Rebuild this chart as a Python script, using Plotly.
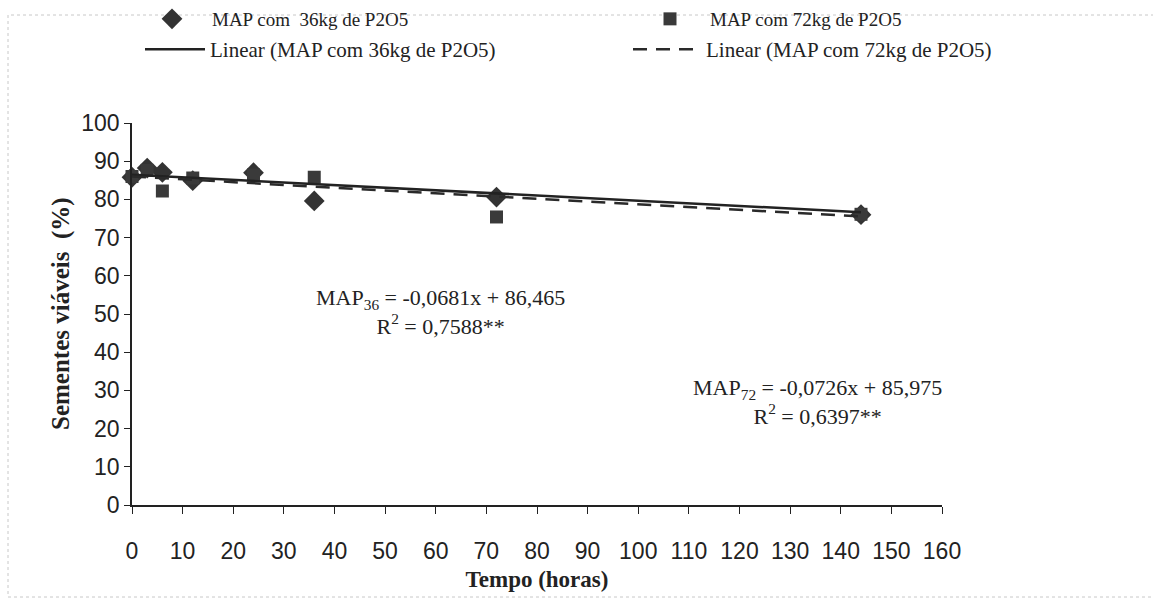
import plotly.graph_objects as go
import numpy as np

# Data
tempo = [0, 3, 6, 12, 24, 36, 72, 144]
map36 = [85.8, 88.2, 87.1, 84.9, 87.0, 79.6, 80.6, 76.0]
map72 = [86.0, 87.6, 82.2, 85.6, 86.4, 85.8, 75.4, 76.1]

# Regression equations printed on the chart
coef36 = (-0.0681, 86.465)
coef72 = (-0.0726, 85.975)
r2_36 = "0,7588**"
r2_72 = "0,6397**"
trend_x = [0, 144]

name36 = "MAP com  36kg de P2O5"
name72 = "MAP com 72kg de P2O5"
lin36 = "Linear (MAP com 36kg de P2O5)"
lin72 = "Linear (MAP com 72kg de P2O5)"
x_title = "Tempo (horas)"
y_title = "Sementes viáveis  (%)"

xticks = list(range(0, 161, 10))
yticks = list(range(0, 101, 10))

tx = np.array(trend_x, dtype=float)
W, H = 1153, 601
L, R, T, B = 132, 211, 123, 96
PW, PH = W - L - R, H - T - B

serif = "Liberation Serif, Times New Roman, serif"
sans = "Liberation Sans, Arial, sans-serif"
ink = "#222222"


def fmt(v):
    return str(v).replace(".", ",")


fig = go.Figure()
fig.add_trace(go.Scatter(x=tempo, y=map36, mode="markers", name=name36, legend="legend",
                         cliponaxis=False,
                         marker=dict(symbol="diamond", size=16, color="#333333")))
fig.add_trace(go.Scatter(x=tempo, y=map72, mode="markers", name=name72, legend="legend2",
                         cliponaxis=False,
                         marker=dict(symbol="square", size=13, color="#3a3a3a")))
fig.add_trace(go.Scatter(x=tx, y=coef36[0] * tx + coef36[1], mode="lines", name=lin36,
                         legend="legend3",
                         line=dict(color=ink, width=2.5)))
fig.add_trace(go.Scatter(x=tx, y=coef72[0] * tx + coef72[1], mode="lines", name=lin72,
                         legend="legend4",
                         line=dict(color="#2a2a2a", width=2.5, dash="14px,9px")))


def leg(xpx, ypx, size, itemwidth):
    return dict(x=xpx / W, y=1 - ypx / H, xref="container", yref="container",
                xanchor="left", yanchor="top", itemwidth=itemwidth,
                font=dict(family=serif, size=size, color=ink),
                bgcolor="rgba(0,0,0,0)")


fig.update_layout(
    width=W, height=H,
    margin=dict(l=L, r=R, t=T, b=B, autoexpand=False),
    paper_bgcolor="white", plot_bgcolor="white",
    showlegend=True,
    legend=leg(132, 0, 19, 70),
    legend2=leg(630, 0, 19, 70),
    legend3=leg(140, 29, 21, 60),
    legend4=leg(628, 29, 21, 68),
    xaxis=dict(range=[0, 160], tickvals=xticks, showgrid=False, zeroline=False,
               showline=True, linecolor=ink, linewidth=1.5,
               ticks="outside", ticklen=7, tickcolor=ink, ticklabelstandoff=18,
               tickfont=dict(family=sans, size=23, color=ink),
               title=dict(text=f"<b>{x_title}</b>", standoff=8,
                          font=dict(family=serif, size=23, color=ink))),
    yaxis=dict(range=[0, 100], tickvals=yticks, showgrid=False, zeroline=False,
               showline=True, linecolor=ink, linewidth=1.5,
               ticks="outside", ticklen=6, tickcolor=ink,
               tickfont=dict(family=sans, size=23, color=ink)),
)

# y-axis title
fig.add_annotation(x=(45 - L) / PW, y=0.5, xref="paper", yref="paper", showarrow=False,
                   text=f"<b>{y_title}</b>", textangle=-90,
                   font=dict(family=serif, size=25, color=ink))

fig.add_annotation(x=61, y=50.5, xref="x", yref="y", showarrow=False,
                   text=f"MAP<sub>36</sub> = {fmt(coef36[0])}x + {fmt(coef36[1])}<br>R<sup>2</sup> = {r2_36}",
                   font=dict(family=serif, size=22, color=ink), align="center")
fig.add_annotation(x=135.5, y=27, xref="x", yref="y", showarrow=False,
                   text=f"MAP<sub>72</sub> = {fmt(coef72[0])}x + {fmt(coef72[1])}<br>R<sup>2</sup> = {r2_72}",
                   font=dict(family=serif, size=22, color=ink), align="center")

# light chart-area border
fig.add_shape(type="rect", xref="paper", yref="paper",
              x0=(8 - L) / PW, x1=(1160 - L) / PW,
              y0=(T + PH - 597) / PH, y1=(T + PH - 15) / PH,
              line=dict(color="#c8c8c8", width=1, dash="dot"), layer="below")

fig.write_html("out.html")
